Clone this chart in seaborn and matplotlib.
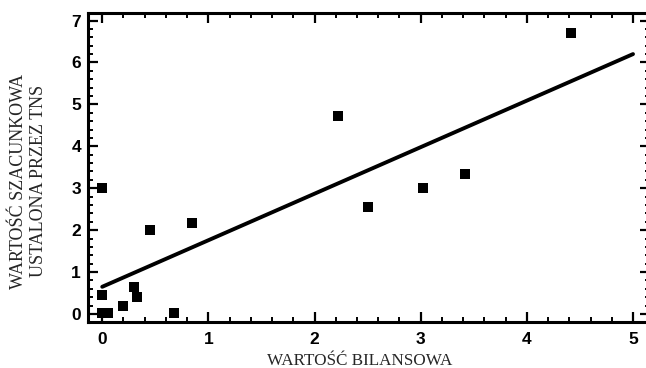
import matplotlib
matplotlib.use("Agg")
import matplotlib.pyplot as plt
from matplotlib.ticker import MultipleLocator
import seaborn as sns
import pandas as pd

# Data
bilansowa = [0.0, 0.0, 0.0, 0.05, 0.2, 0.3, 0.33, 0.45, 0.68, 0.85, 2.22, 2.5, 3.02, 3.42, 4.42]
szacunkowa = [3.0, 0.45, 0.02, 0.02, 0.2, 0.65, 0.4, 2.0, 0.02, 2.17, 4.72, 2.55, 3.0, 3.35, 6.7]
trend_x = [0.0, 5.0]
trend_y = [0.65, 6.2]
x_ticks = [0, 1, 2, 3, 4, 5]
y_ticks = [0, 1, 2, 3, 4, 5, 6, 7]
x_label = "WARTOŚĆ BILANSOWA"
y_label = "WARTOŚĆ SZACUNKOWA\nUSTALONA PRZEZ TNS"

sns.set_theme(style="ticks")
plt.rcParams["font.family"] = ["Liberation Sans", "DejaVu Sans"]

pts = pd.DataFrame({"x": bilansowa, "y": szacunkowa})
trend = pd.DataFrame({"x": trend_x, "y": trend_y})

W, H = 646, 368
L, R, B, T = 88, 650, 322, 13
fig = plt.figure(figsize=(W / 100, H / 100), dpi=100)
ax = fig.add_axes([L / W, 1 - B / H, (R - L) / W, (B - T) / H])

sns.lineplot(data=trend, x="x", y="y", ax=ax, color="black", linewidth=2.8)
sns.scatterplot(data=pts, x="x", y="y", ax=ax, marker="s", s=55, color="black",
                edgecolor="black", linewidth=0, zorder=3)

ax.set_xlim(-0.134, 5.16)
ax.set_ylim(-0.19, 7.18)
ax.set_xticks(x_ticks)
ax.set_yticks(y_ticks)
ax.xaxis.set_minor_locator(MultipleLocator(0.2))
ax.yaxis.set_minor_locator(MultipleLocator(0.2))

for s in ax.spines.values():
    s.set_visible(True)
    s.set_linewidth(2.2)
    s.set_color("black")

ax.tick_params(which="major", direction="in", length=7, width=1.6, top=True, right=True,
               colors="black", labelsize=12.5)
ax.tick_params(which="minor", direction="in", length=3.5, width=1.4, top=True, right=True,
               colors="black")
ax.tick_params(axis="x", which="major", pad=7)
ax.tick_params(axis="y", which="major", pad=5)
for lab in ax.get_xticklabels() + ax.get_yticklabels():
    lab.set_fontweight("bold")

ax.set_xlabel(x_label, family=["Liberation Serif", "DejaVu Serif"], fontsize=12.3)
ax.xaxis.set_label_coords((360 - L) / (R - L), -(365 - B) / (B - T), transform=ax.transAxes)
ax.xaxis.label.set_va("baseline")
ax.set_ylabel(y_label, family=["Liberation Serif", "DejaVu Serif"], fontsize=13,
              linespacing=1.2)
ax.yaxis.set_label_coords(-(L - 47) / (R - L), (B - 181) / (B - T), transform=ax.transAxes)

fig.savefig("out.png", dpi=100)
